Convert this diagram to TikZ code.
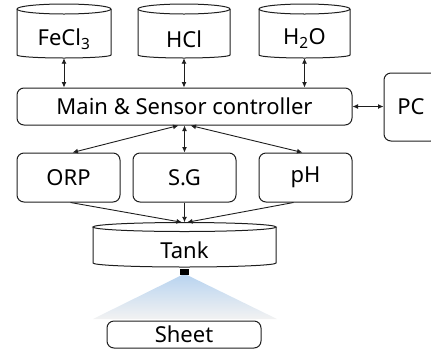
\documentclass[tikz,border=0pt]{standalone}
\usepackage{fontspec}
\setmainfont{Noto Sans}
\usetikzlibrary{arrows.meta,calc}
\definecolor{ln}{RGB}{30,30,30}
\definecolor{spray}{RGB}{185,212,240}
\definecolor{sprayend}{RGB}{242,242,242}
\tikzset{
  ln/.style={draw=ln,line width=1pt},
  box/.style={ln,rounded corners=7pt,inner sep=0pt,font=\fontsize{22}{25}\selectfont},
  txt/.style={inner sep=0pt,font=\fontsize{22}{25}\selectfont},
  con/.style={draw=ln,line width=0.9pt},
  tip/.style={-{Latex[length=5.5pt,width=5pt]}},
  dtip/.style={{Latex[length=5.5pt,width=5pt]}-{Latex[length=5.5pt,width=5pt]}},
}
% cylinder outline: centre x, half width, top ellipse y, side bottom y, ry top, ry bottom
\newcommand\mycyl[6]{%
  \draw[ln] (#1-#2,#3) -- (#1-#2,#4) arc[start angle=180,end angle=360,x radius=#2pt,y radius=#6pt] -- (#1+#2,#3);
  \draw[ln] (#1,#3) ellipse[x radius=#2pt,y radius=#5pt];
}
\begin{document}
\begin{tikzpicture}[x=1pt,y=-1pt]
\useasboundingbox (0,0) rectangle (431,349);
% spray cone
\shade[top color=spray,bottom color=sprayend] (182,275) -- (187,275) -- (277,319) -- (93,319) -- cycle;
% cylinders
\mycyl{64}{47}{9}{55}{5}{3}
\mycyl{184}{46}{9}{55}{5}{3}
\mycyl{304.5}{45.5}{9}{55}{5}{3}
\mycyl{184.5}{91.5}{227}{263}{4.5}{4}
\node[txt,minimum width=94,minimum height=38] (fe) at (64,39) {FeCl\textsubscript{3}};
\node[txt,minimum width=92,minimum height=38] (hcl) at (184,39) {HCl};
\node[txt,minimum width=91,minimum height=38] (h2o) at (304.5,39) {H\textsubscript{2}O};
\node[txt,minimum width=183,minimum height=34] (tank) at (184.5,250) {Tank};
% boxes
\node[box,minimum width=335,minimum height=37] (ctrl) at (184.5,106.5) {Main \& Sensor controller};
\node[box,minimum width=54,minimum height=68] (pc) at (411,107) {PC};
\node[box,minimum width=103,minimum height=49] (orp) at (68.5,177.5) {ORP};
\node[box,minimum width=103,minimum height=49] (sg) at (184.5,177.5) {S.G};
\node[box,minimum width=93,minimum height=49] (ph) at (305.5,177.5) {pH};
\node[box,minimum width=154,minimum height=27] (sheet) at (184,334.5) {Sheet};
\node[fill=black,inner sep=0pt,minimum width=9,minimum height=6] (nozzle) at (184.5,272) {};
% connectors
\draw[con,dtip] (fe.south) -- (fe.south |- ctrl.north);
\draw[con,dtip] (hcl.south) -- (hcl.south |- ctrl.north);
\draw[con,dtip] (h2o.south) -- (h2o.south |- ctrl.north);
\draw[con,dtip] (ctrl.east) -- (ctrl.east -| pc.west);
\draw[con,dtip] ($(ctrl.south)+(-6,0)$) -- ($(orp.north)+(4,0)$);
\draw[con,dtip] (ctrl.south) -- (sg.north);
\draw[con,dtip] ($(ctrl.south)+(6,0)$) -- ($(ph.north)+(-3,0)$);
\draw[con,tip] ($(orp.south)+(2,0)$) -- ($(tank.north)+(-2.5,-10.5)$);
\draw[con,tip] (sg.south) -- ($(tank.north)+(0,-10.5)$);
\draw[con,tip] ($(ph.south)+(-12,0)$) -- ($(tank.north)+(2.5,-10.5)$);
\end{tikzpicture}
\end{document}
